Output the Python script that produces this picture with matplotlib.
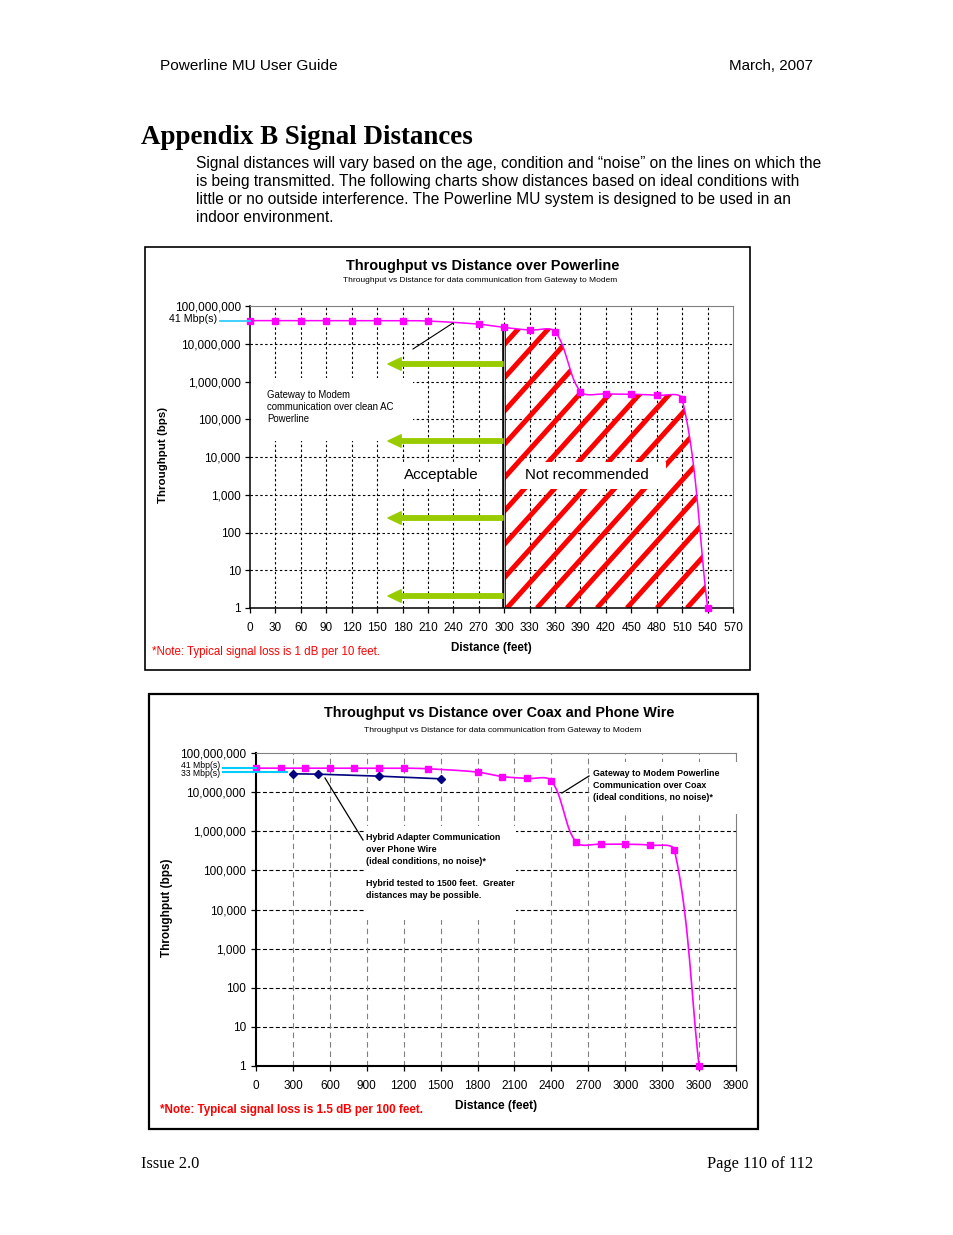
import numpy as np
import matplotlib
matplotlib.use('Agg')
import matplotlib.pyplot as plt
from matplotlib.patches import Rectangle, PathPatch
from matplotlib.path import Path
from matplotlib.lines import Line2D
from matplotlib.ticker import FuncFormatter, NullLocator

# ---------------- data ----------------
pl_distance = [0, 30, 60, 90, 120, 150, 180, 210, 270, 300, 330, 360, 390, 420, 450, 480, 510, 540]
pl_throughput = [41e6, 41e6, 41e6, 41e6, 41e6, 41e6, 41e6, 40e6, 33e6, 27e6, 23e6, 21e6,
                 540e3, 470e3, 460e3, 430e3, 345e3, 1]
pl_xticks = [0, 30, 60, 90, 120, 150, 180, 210, 240, 270, 300, 330, 360, 390, 420, 450, 480, 510, 540, 570]
pl_limit = 300  # recommended limit (feet)

coax_distance = [0, 200, 400, 600, 800, 1000, 1200, 1400, 1800, 2000, 2200, 2400, 2600, 2800, 3000, 3200, 3400, 3600]
coax_throughput = [41e6, 41e6, 41e6, 41e6, 41e6, 41e6, 41e6, 39.5e6, 32.5e6, 25e6, 22.3e6, 19.5e6,
                   525e3, 468e3, 468e3, 441e3, 329e3, 1]
hybrid_distance = [300, 500, 1000, 1500]
hybrid_throughput = [29.4e6, 28.8e6, 25.6e6, 21.9e6]
coax_xticks = [0, 300, 600, 900, 1200, 1500, 1800, 2100, 2400, 2700, 3000, 3300, 3600, 3900]

y_ticks = [1, 10, 100, 1000, 10000, 100000, 1000000, 10000000, 100000000]
rate_41 = 41e6
rate_33 = 33e6

# ---------------- page ----------------
W, H = 954, 1235
plt.rcParams['font.family'] = ['Liberation Sans', 'DejaVu Sans']
fig = plt.figure(figsize=(W / 100, H / 100), dpi=100)
fig.patch.set_facecolor('white')
renderer = fig.canvas.get_renderer()


def txt(x, y, s, size=10, fitw=None, rot=0, **kw):
    t = fig.text(x / W, 1 - y / H, s, fontsize=size, rotation=rot, **kw)
    if fitw:
        bb = t.get_window_extent(renderer)
        w = bb.height if rot else bb.width
        t.set_fontsize(size * fitw / w)
    return t


def frame(x0, y0, x1, y1, lw):
    fig.add_artist(Rectangle((x0 / W, 1 - y1 / H), (x1 - x0) / W, (y1 - y0) / H,
                             transform=fig.transFigure, fill=False, ec='black', lw=lw))


# header / footer
txt(160, 70, 'Powerline MU User Guide', 10.5, fitw=180, va='baseline', ha='left')
txt(813, 70, 'March, 2007', 10.5, fitw=85, va='baseline', ha='right')
txt(141, 144, 'Appendix B Signal Distances', 20, fitw=331, va='baseline', ha='left',
    family=['Liberation Serif', 'DejaVu Serif'], weight='bold')
para = ['Signal distances will vary based on the age, condition and \u201cnoise\u201d on the lines on which the',
        'is being transmitted. The following charts show distances based on ideal conditions with',
        'little or no outside interference. The Powerline MU system is designed to be used in an',
        'indoor environment.']
t0 = txt(196, 168, para[0], 10.8, fitw=627, va='baseline', ha='left')
for i, line in enumerate(para[1:], start=1):
    txt(196, 168 + 18 * i, line, t0.get_fontsize(), va='baseline', ha='left')
txt(141, 1168, 'Issue 2.0', 11, fitw=58, va='baseline', ha='left',
    family=['Liberation Serif', 'DejaVu Serif'])
txt(813, 1168, 'Page 110 of 112', 11, fitw=105, va='baseline', ha='right',
    family=['Liberation Serif', 'DejaVu Serif'])

frame(145, 247, 750, 670, 1.2)
frame(149, 694, 758, 1129, 1.6)


def make_axes(L, T, R, B):
    ax = fig.add_axes([L / W, 1 - B / H, (R - L) / W, (B - T) / H])
    return ax


def frac(L, T, R, B):
    def f(px, py):
        return ((px - L) / (R - L), (B - py) / (B - T))
    return f


def smooth(ax, xs, ys, n=30):
    P = ax.transData.transform(np.column_stack([xs, ys]))
    m = len(P)
    out = [P[0]]
    for i in range(m - 1):
        p0 = P[max(i - 1, 0)]
        p1 = P[i]
        p2 = P[i + 1]
        p3 = P[min(i + 2, m - 1)]
        d01 = np.linalg.norm(p1 - p0)
        d12 = np.linalg.norm(p2 - p1)
        d23 = np.linalg.norm(p3 - p2)
        c1 = p1 + (p2 - p0) * d12 / (d01 + d12) / 3.0
        c2 = p2 - (p3 - p1) * d12 / (d12 + d23) / 3.0
        t = np.linspace(0, 1, n)[1:, None]
        B = ((1 - t) ** 3) * p1 + 3 * ((1 - t) ** 2) * t * c1 + 3 * (1 - t) * t * t * c2 + t ** 3 * p2
        out.extend(B)
    out = np.array(out)
    d = ax.transData.inverted().transform(out)
    return d[:, 0], d[:, 1]


def style_axes(ax, xticks, xmax, spine_lw, grid_h, grid_v, pad_x, pad_y):
    ax.set_xlim(0, xmax)
    ax.set_yscale('log')
    ax.set_ylim(1, 1e8)
    ax.set_xticks(xticks)
    ax.set_yticks(y_ticks)
    ax.yaxis.set_minor_locator(NullLocator())
    ax.yaxis.set_major_formatter(FuncFormatter(lambda v, p: f'{int(round(v)):,}'))
    ax.tick_params(direction='out', length=3.6, width=0.9, labelsize=8.5, color='black')
    ax.tick_params(axis='x', pad=pad_x)
    ax.tick_params(axis='y', pad=pad_y)
    for s in ['top', 'right']:
        ax.spines[s].set_color('#808080')
        ax.spines[s].set_linewidth(0.8)
    for s in ['left', 'bottom']:
        ax.spines[s].set_color('black')
        ax.spines[s].set_linewidth(spine_lw)
    ax.set_axisbelow(True)
    for v in y_ticks[1:-1]:
        ax.axhline(v, **grid_h, zorder=0.5)
    for v in xticks[1:-1]:
        ax.axvline(v, **grid_v, zorder=0.5)
    ax.set_facecolor('white')


# =============== Chart 1: Powerline ===============
L1, T1, R1, B1 = 250, 306, 733, 608
ax1 = make_axes(L1, T1, R1, B1)
f1 = frac(L1, T1, R1, B1)
style_axes(ax1, pl_xticks, 570, 1.1,
           dict(color='black', lw=0.8, ls=(0, (2.2, 2.2))),
           dict(color='black', lw=0.8, ls=(0, (2.2, 2.2))), 6.5, 3)

# white text boxes covering grid
for (x0, y0, x1, y1, z) in [(251.5, 378, 413, 441, 1.0), (399, 463, 483, 489, 1.0), (521, 462, 666, 489, 1.8)]:
    a, b = f1(x0, y1)
    c, d = f1(x1, y0)
    ax1.add_patch(Rectangle((a, b), c - a, d - b, transform=ax1.transAxes, fc='white', ec='none',
                            zorder=z, clip_on=False))

sx1, sy1 = smooth(ax1, pl_distance, pl_throughput)

# hatched "not recommended" region
mask = sx1 >= pl_limit - 1e-9
poly = [(pl_limit, 1)] + list(zip(sx1[mask], sy1[mask])) + [(sx1[-1], 1)]
clip = PathPatch(Path(poly, closed=True), transform=ax1.transData, fc='none', ec='none')
ax1.add_patch(clip)
axw, axh = R1 - L1, B1 - T1
ang = np.deg2rad(48)
for k in range(-14, 10):
    xb = (507 - L1) + 30 * k
    xe = xb + axh / np.tan(ang)
    ln = Line2D([xb / axw, xe / axw], [0, 1], transform=ax1.transAxes, color='#FF0000',
                lw=3.6, solid_capstyle='butt', zorder=1.5)
    ln.set_clip_path(clip)
    ax1.add_line(ln)

# double vertical limit line
ax1.plot([pl_limit, pl_limit], [1, pl_throughput[pl_distance.index(pl_limit)]], color='black',
         lw=2.6, zorder=2, solid_capstyle='butt')
ax1.plot([pl_limit, pl_limit], [1, pl_throughput[pl_distance.index(pl_limit)]], color='#B0B0B0',
         lw=0.8, zorder=2.1, solid_capstyle='butt')

ax1.plot(sx1, sy1, color='#FF00FF', lw=1.1, zorder=3)
ax1.plot(pl_distance, pl_throughput, ls='none', marker='s', ms=4.2, color='#FF00FF', zorder=3.5,
         clip_on=False)

# green arrows
for py in [364, 441, 518, 596]:
    xa, ya = f1(388, py)
    xb_, yb_ = f1(503, py)
    ax1.annotate('', xy=(xa, ya), xytext=(xb_, yb_), xycoords='axes fraction',
                 arrowprops=dict(arrowstyle='simple,head_length=0.95,head_width=0.9,tail_width=0.32',
                                 color='#99CC00', mutation_scale=10, shrinkA=0, shrinkB=0), zorder=4)

# leader line
p, q = f1(413, 349)
r, s = f1(453, 323)
ax1.plot([p, r], [q, s], transform=ax1.transAxes, color='black', lw=0.8, zorder=4)

# 41 Mbps marker line
ax1.plot([f1(220, 0)[0], 0], [rate_41, rate_41], transform=ax1.get_yaxis_transform(),
         color='#33CCFF', lw=1.3, clip_on=False, zorder=4)
txt(217, 319, '41 Mbp(s)', 7, fitw=48, ha='right', va='center')

txt(483, 266, 'Throughput vs Distance over Powerline', 10, fitw=273, ha='center', va='center', weight='bold')
txt(480, 281, 'Throughput vs Distance for data communication from Gateway to Modem', 6, fitw=276,
    ha='center', va='center')
txt(491, 648, 'Distance (feet)', 8, fitw=80, ha='center', va='center', weight='bold')
txt(163, 455, 'Throughput (bps)', 8, fitw=96, rot=90, ha='center', va='center', weight='bold')
txt(152, 652, '*Note: Typical signal loss is 1 dB per 10 feet.', 7.5, fitw=228, ha='left', va='center',
    color='#FF0000')
g1 = txt(267, 407, 'communication over clean AC', 6.5, fitw=127, ha='left', va='center')
txt(267, 395, 'Gateway to Modem', g1.get_fontsize(), ha='left', va='center')
txt(267, 419, 'Powerline', g1.get_fontsize(), ha='left', va='center')
txt(441.5, 475, 'Acceptable', 10, fitw=75, ha='center', va='center')
txt(587, 475, 'Not recommended', 10, fitw=124, ha='center', va='center')

# =============== Chart 2: Coax and Phone Wire ===============
L2, T2, R2, B2 = 256, 753, 736, 1066
ax2 = make_axes(L2, T2, R2, B2)
f2 = frac(L2, T2, R2, B2)
style_axes(ax2, coax_xticks, 3900, 1.5,
           dict(color='black', lw=0.8, ls=(0, (3.6, 2.2))),
           dict(color='#808080', lw=0.8, ls=(0, (5, 3.5))), 6.5, 3.6)

for (x0, y0, x1, y1, z) in [(364, 826, 516, 920, 1.0), (590, 762, 742, 814, 2.6)]:
    a, b = f2(x0, y1)
    c, d = f2(x1, y0)
    ax2.add_patch(Rectangle((a, b), c - a, d - b, transform=ax2.transAxes, fc='white', ec='none',
                            zorder=z, clip_on=False))

sx2, sy2 = smooth(ax2, coax_distance, coax_throughput)
ax2.plot(sx2, sy2, color='#FF00FF', lw=1.2, zorder=3)
ax2.plot(coax_distance, coax_throughput, ls='none', marker='s', ms=5, color='#FF00FF', zorder=3.5,
         clip_on=False)
ax2.plot(hybrid_distance, hybrid_throughput, color='#000080', lw=1.2, marker='D', ms=4.2, zorder=3.6)

for (a0, b0, a1, b1) in [(325, 778, 363, 840), (562, 793, 589, 776)]:
    p, q = f2(a0, b0)
    r, s = f2(a1, b1)
    ax2.plot([p, r], [q, s], transform=ax2.transAxes, color='black', lw=0.9, zorder=4, clip_on=False)

ax2.plot([f2(223, 0)[0], 0], [rate_41, rate_41], transform=ax2.get_yaxis_transform(),
         color='#00CCFF', lw=1.5, clip_on=False, zorder=4)
ax2.plot([f2(223, 0)[0], f2(287, 0)[0]], [rate_33, rate_33], transform=ax2.get_yaxis_transform(),
         color='#00CCFF', lw=1.5, clip_on=False, zorder=4)
txt(220, 765, '41 Mbp(s)', 6, fitw=39, ha='right', va='center')
txt(220, 773, '33 Mbp(s)', 6, fitw=39, ha='right', va='center')

txt(499, 713, 'Throughput vs Distance over Coax and Phone Wire', 11, fitw=353, ha='center', va='center',
    weight='bold')
txt(503, 731, 'Throughput vs Distance for data communication from Gateway to Modem', 6, fitw=279,
    ha='center', va='center')
txt(496, 1106, 'Distance (feet)', 8.5, fitw=82, ha='center', va='center', weight='bold')
txt(167, 908, 'Throughput (bps)', 8.5, fitw=98, rot=90, ha='center', va='center', weight='bold')
txt(160, 1110, '*Note: Typical signal loss is 1.5 dB per 100 feet.', 8, fitw=265, ha='left', va='center',
    color='#FF0000', weight='bold')

gw = txt(593, 774, 'Gateway to Modem Powerline', 6.5, fitw=125, ha='left', va='center', weight='bold')
for i, line in enumerate(['Communication over Coax', '(ideal conditions, no noise)*'], start=1):
    txt(593, 774 + 12 * i, line, gw.get_fontsize(), ha='left', va='center', weight='bold')
hy = txt(366, 837, 'Hybrid Adapter Communication', 6.5, fitw=133, ha='left', va='center', weight='bold')
for yy, line in [(849, 'over Phone Wire'), (861, '(ideal conditions, no noise)*'),
                 (884, 'Hybrid tested to 1500 feet.  Greater'), (896, 'distances may be possible.')]:
    txt(366, yy, line, hy.get_fontsize(), ha='left', va='center', weight='bold')

fig.savefig('out.png', dpi=100, facecolor='white')
